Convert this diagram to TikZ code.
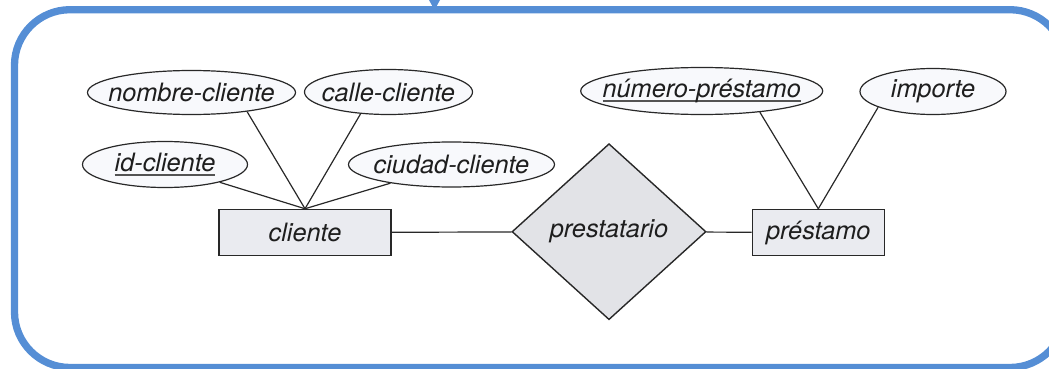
\documentclass[tikz,border=0pt]{standalone}
\usepackage{fontspec}
\setmainfont{TeX Gyre Heros}
\usetikzlibrary{shapes.geometric}

\definecolor{marco}{RGB}{85,142,213}
\definecolor{borde}{RGB}{40,40,40}
\definecolor{texto}{RGB}{30,30,30}
\definecolor{gEntidad}{RGB}{234,235,240}
\definecolor{gAtributo}{RGB}{248,249,252}
\definecolor{gRelacion}{RGB}{226,227,231}

% subrayado de atributo clave
\newcommand{\clave}[1]{\setbox0=\hbox{#1}\rlap{\color{borde!80}\rule[-4.5pt]{\wd0}{2pt}}\box0}
% texto sin ancho propio
\newcommand{\etq}[1]{\makebox[0pt]{#1}}

\begin{document}
\begin{tikzpicture}[
      x=1pt, y=-1pt,
      every node/.style={font=\fontsize{25.3}{28}\selectfont\itshape, text=texto, inner sep=0pt},
      entidad/.style={rectangle, draw=borde, fill=gEntidad, line width=1.5pt, minimum height=46pt},
      atributo/.style={ellipse, draw=borde, fill=gAtributo, line width=1.2pt},
      relacion/.style={diamond, draw=borde, fill=gRelacion, line width=1.4pt,
        minimum width=194pt, minimum height=176pt},
      enlace/.style={draw=borde, line width=1.2pt}
    ]
    \useasboundingbox (0,0) rectangle (1049,369);

    % Marco
    \draw[marco, line width=7.3pt, rounded corners=55.5pt] (14.5,9.7) rectangle (1065.5,367.5);
    \fill[marco] (429,0) -- (440,0) -- (434.5,10) -- cycle;

    % Entidades y relacion
    \node[entidad, minimum width=172pt] (cliente) at (305,232.5) {\etq{cliente}};
    \node[entidad, minimum width=132pt] (prestamo) at (818.3,232.5) {\etq{préstamo}};
    \node[relacion] (prestatario) at (609,231.7) {\etq{prestatario}};

    % Atributos de cliente
    \node[atributo, minimum width=208pt, minimum height=44pt] (nombre) at (191.5,92.5) {\etq{nombre-cliente}};
    \node[atributo, minimum width=168pt, minimum height=45pt] (calle) at (388.5,92) {\etq{calle-cliente}};
    \node[atributo, minimum width=165pt, minimum height=46pt] (idcli) at (165,164.5) {\etq{\clave{id-cliente}}};
    \node[atributo, minimum width=206pt, minimum height=45pt] (ciudad) at (451.5,164.5) {\etq{ciudad-cliente}};

    % Atributos de prestamo
    \node[atributo, minimum width=242pt, minimum height=47pt] (numero) at (701.7,91) {\etq{\clave{número-préstamo}}};
    \node[atributo, minimum width=146pt, minimum height=46pt] (importe) at (933,91.5) {\etq{importe}};

    % Enlaces
    \draw[enlace] (nombre.-19) -- (cliente.north);
    \draw[enlace] (calle.-142) -- (cliente.north);
    \draw[enlace] (idcli.-18) -- (cliente.north);
    \draw[enlace] (ciudad.-163) -- (cliente.north);
    \draw[enlace] (numero.-20) -- (prestamo.north);
    \draw[enlace] (importe.-164) -- (prestamo.north);
    \draw[enlace] (cliente) -- (prestatario);
    \draw[enlace] (prestatario) -- (prestamo);

\end{tikzpicture}
\end{document}
